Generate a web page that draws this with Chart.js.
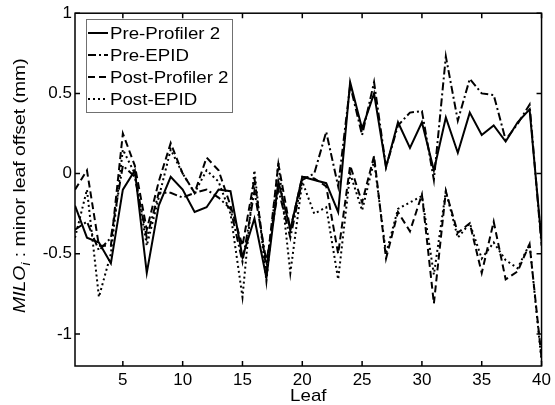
<!DOCTYPE html>
<html>
<head>
<meta charset="utf-8">
<script src="https://cdn.jsdelivr.net/npm/chart.js@4"></script>
<style>
  html, body { margin: 0; padding: 0; background: #fff; }
  #wrap { width: 555px; height: 405px; }
</style>
</head>
<body>
<div id="wrap"><canvas id="miloChart" width="555" height="405"></canvas></div>
<script>
// leaf numbers along x
const leaves = [1, 2, 3, 4, 5, 6, 7, 8, 9, 10, 11, 12, 13, 14, 15, 16, 17, 18, 19, 20,
                21, 22, 23, 24, 25, 26, 27, 28, 29, 30, 31, 32, 33, 34, 35, 36, 37, 38, 39, 40];

// minor leaf offset (mm)
const preProfiler = [-0.20, -0.40, -0.43, -0.56, -0.10, 0.02, -0.62, -0.20, -0.02, -0.10,
                     -0.24, -0.21, -0.10, -0.11, -0.52, -0.28, -0.65, -0.05, -0.35, -0.02,
                     -0.04, -0.06, -0.24, 0.57, 0.28, 0.50, 0.04, 0.32, 0.16, 0.32,
                     0.02, 0.35, 0.13, 0.38, 0.24, 0.30, 0.20, 0.32, 0.40, -0.42];
const preEpid = [-0.35, -0.30, -0.48, -0.40, 0.05, -0.02, -0.40, -0.12, -0.12, -0.15,
                 -0.12, -0.10, -0.15, -0.22, -0.55, -0.11, -0.55, -0.10, -0.40, -0.04,
                 0.00, 0.26, -0.08, 0.55, 0.24, 0.57, 0.04, 0.30, 0.38, 0.39,
                 -0.04, 0.73, 0.33, 0.59, 0.50, 0.49, 0.21, 0.31, 0.43, -0.45];
const postProfiler = [-0.10, 0.02, -0.45, -0.45, 0.25, 0.05, -0.35, -0.05, 0.19, 0.00,
                      -0.12, 0.10, 0.02, -0.20, -0.45, -0.03, -0.60, 0.06, -0.35, -0.02,
                      -0.03, -0.08, -0.50, 0.05, -0.18, 0.11, -0.53, -0.24, -0.36, -0.13,
                      -0.81, -0.11, -0.37, -0.31, -0.62, -0.30, -0.66, -0.61, -0.44, -1.15];
const postEpid = [-0.40, -0.10, -0.77, -0.50, 0.15, 0.00, -0.45, -0.15, 0.15, 0.00,
                  -0.12, 0.02, -0.05, -0.25, -0.77, 0.02, -0.67, 0.07, -0.62, -0.05,
                  -0.25, -0.21, -0.66, 0.00, -0.23, 0.08, -0.50, -0.22, -0.18, -0.14,
                  -0.63, -0.11, -0.40, -0.31, -0.53, -0.43, -0.54, -0.59, -0.44, -1.17];

const seriesNames = ['Pre-Profiler 2', 'Pre-EPID', 'Post-Profiler 2', 'Post-EPID'];
const xTicks = [5, 10, 15, 20, 25, 30, 35, 40];
const yTicks = [-1, -0.5, 0, 0.5, 1];

const FONT = "'Liberation Sans', Arial, sans-serif";
Chart.defaults.font.family = FONT;
Chart.defaults.font.size = 17;
Chart.defaults.color = '#000';

function pts(vals) {
  return leaves.map((l, i) => ({ x: l, y: vals[i] }));
}

// box, inward ticks and legend like the matlab figure
const matlabBox = {
  id: 'matlabBox',
  afterDatasetsDraw(chart) {
    const { ctx, chartArea: a, scales } = chart;
    ctx.save();
    ctx.strokeStyle = '#000';
    ctx.lineWidth = 1.5;
    ctx.strokeRect(a.left, a.top, a.right - a.left, a.bottom - a.top);
    ctx.beginPath();
    scales.x.ticks.forEach(t => {
      const px = scales.x.getPixelForValue(t.value);
      ctx.moveTo(px, a.bottom); ctx.lineTo(px, a.bottom - 5);
      ctx.moveTo(px, a.top); ctx.lineTo(px, a.top + 5);
    });
    scales.y.ticks.forEach(t => {
      const py = scales.y.getPixelForValue(t.value);
      ctx.moveTo(a.left, py); ctx.lineTo(a.left + 5, py);
      ctx.moveTo(a.right, py); ctx.lineTo(a.right - 5, py);
    });
    ctx.stroke();

    // legend
    const lx = 86, ly = 19, lw = 146, lh = 93;
    ctx.fillStyle = '#fff';
    ctx.fillRect(lx, ly, lw, lh);
    ctx.strokeStyle = '#707070';
    ctx.lineWidth = 1;
    ctx.strokeRect(lx + 0.5, ly + 0.5, lw, lh);
    ctx.font = '17px ' + FONT;
    ctx.textBaseline = 'middle';
    ctx.fillStyle = '#000';
    chart.data.datasets.forEach((ds, i) => {
      const y = ly + 14 + i * 22;
      ctx.strokeStyle = '#000';
      ctx.lineWidth = ds.borderWidth;
      ctx.setLineDash(ds.borderDash || []);
      ctx.beginPath();
      ctx.moveTo(lx + 2, y); ctx.lineTo(lx + 22, y);
      ctx.stroke();
      ctx.setLineDash([]);
      ctx.save();
      ctx.translate(lx + 24, y + 1);
      ctx.scale(1.1, 1);
      ctx.fillText(ds.label, 0, 0);
      ctx.restore();
    });
    ctx.restore();
  },
  afterDraw(chart) {
    const { ctx, chartArea: a } = chart;
    ctx.save();
    ctx.fillStyle = '#000';
    // x label
    ctx.font = '17px ' + FONT;
    ctx.textAlign = 'center';
    ctx.textBaseline = 'alphabetic';
    ctx.save();
    ctx.translate((a.left + a.right) / 2, 401);
    ctx.scale(1.1, 1);
    ctx.fillText('Leaf', 0, 0);
    ctx.restore();
    // y label with italic MILO and subscript i
    const parts = [
      { t: 'MILO', f: 'italic 17px ' + FONT, dy: 0 },
      { t: 'i', f: 'italic 12px ' + FONT, dy: 5 },
      { t: ' : minor leaf offset (mm)', f: '17px ' + FONT, dy: 0 }
    ];
    ctx.translate(25, 313);
    ctx.rotate(-Math.PI / 2);
    ctx.scale(1.14, 1);
    ctx.textAlign = 'left';
    let x = 0;
    parts.forEach(p => {
      ctx.font = p.f;
      ctx.fillText(p.t, x, p.dy);
      x += ctx.measureText(p.t).width;
    });
    ctx.restore();
  }
};

const line = (name, vals, dash) => ({
  label: name,
  data: pts(vals),
  borderColor: '#000',
  borderWidth: 2,
  borderDash: dash,
  pointRadius: 0,
  tension: 0,
  fill: false
});

new Chart(document.getElementById('miloChart'), {
  type: 'line',
  data: {
    datasets: [
      line(seriesNames[0], preProfiler, []),
      line(seriesNames[1], preEpid, [8, 3, 2, 3]),
      line(seriesNames[2], postProfiler, [7, 4]),
      line(seriesNames[3], postEpid, [2, 3])
    ]
  },
  options: {
    responsive: false,
    animation: false,
    layout: { padding: { top: 12, right: 11, left: 0, bottom: 0 } },
    plugins: { legend: { display: false }, tooltip: { enabled: false } },
    scales: {
      x: {
        type: 'linear',
        min: 1,
        max: 40,
        afterBuildTicks: s => { s.ticks = xTicks.map(v => ({ value: v })); },
        afterFit: s => { s.height = 39; },
        grid: { display: false, drawTicks: false },
        border: { display: false },
        ticks: { padding: 4, maxRotation: 0, autoSkip: false, callback: v => String(v) }
      },
      y: {
        min: -1.2,
        max: 1,
        afterBuildTicks: s => { s.ticks = yTicks.map(v => ({ value: v })); },
        afterFit: s => { s.width = 75; },
        grid: { display: false, drawTicks: false },
        border: { display: false },
        ticks: { padding: 3, autoSkip: false, callback: v => String(v) }
      }
    }
  },
  plugins: [matlabBox]
});
</script>
</body>
</html>
